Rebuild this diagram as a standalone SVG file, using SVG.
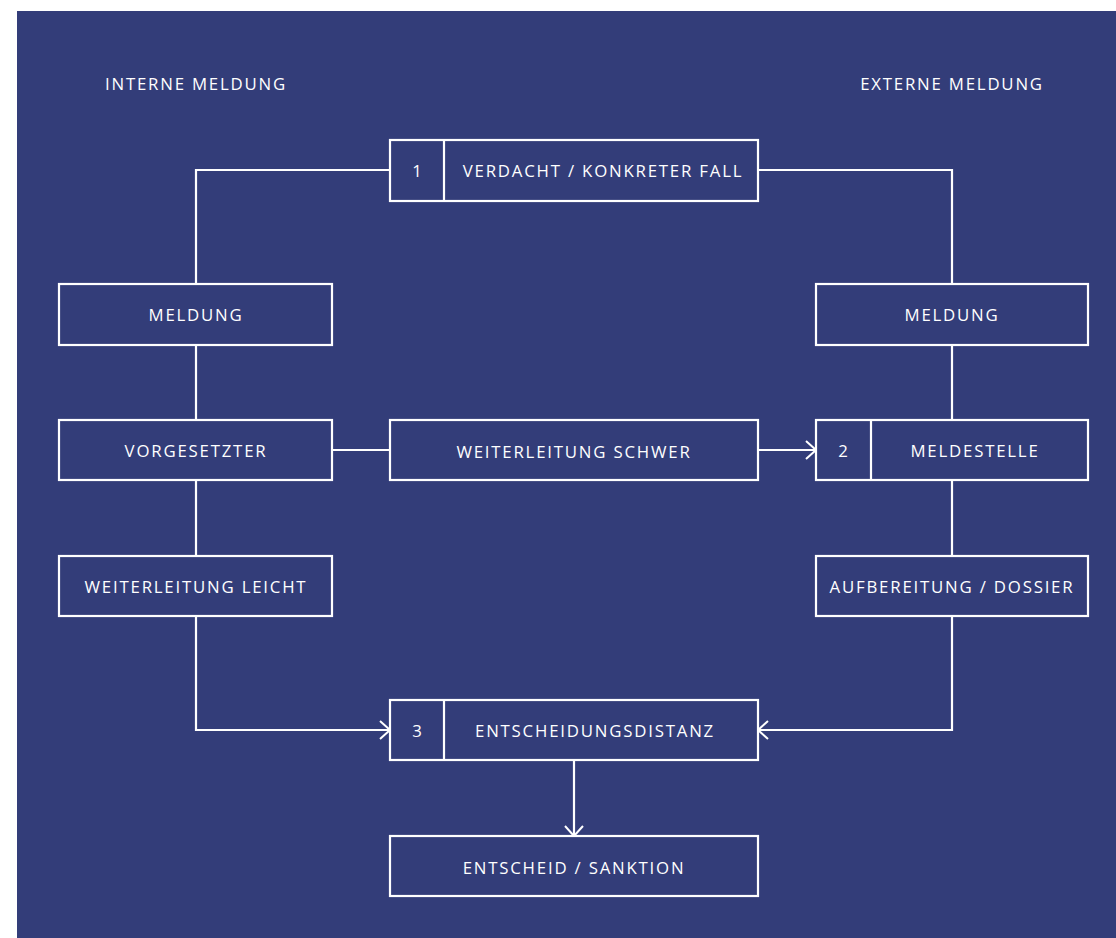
<svg xmlns="http://www.w3.org/2000/svg" width="1116" height="938" viewBox="0 0 1116 938">
<defs>
<marker id="arr" viewBox="0 0 12 20" refX="11" refY="10" markerWidth="12" markerHeight="20" markerUnits="userSpaceOnUse" orient="auto">
<polyline points="1,1 11,10 1,19" fill="none" stroke="#ffffff" stroke-width="2"/>
</marker>
<style>
.bx{fill:none;stroke:#ffffff;stroke-width:2.2}
.ln{fill:none;stroke:#ffffff;stroke-width:2.2}
.t{font-family:"Open Sans","Noto Sans","Liberation Sans",sans-serif;font-size:16.8px;fill:#ffffff;letter-spacing:1.8px;text-anchor:middle;dominant-baseline:central}
</style>
</defs>
<rect x="0" y="0" width="1116" height="938" fill="#ffffff"/>
<rect x="17" y="11" width="1099" height="927" fill="#333d79"/>
<text class="t" x="196" y="83">INTERNE MELDUNG</text>
<text class="t" x="952" y="83">EXTERNE MELDUNG</text>
<g id="connectors">
<polyline class="ln" points="390,170 196,170 196,284"/>
<polyline class="ln" points="758,170 952,170 952,284"/>
<line class="ln" x1="196" y1="345" x2="196" y2="420"/>
<line class="ln" x1="196" y1="480" x2="196" y2="556"/>
<line class="ln" x1="952" y1="345" x2="952" y2="420"/>
<line class="ln" x1="952" y1="480" x2="952" y2="556"/>
<line class="ln" x1="332" y1="450" x2="390" y2="450"/>
<line class="ln" x1="758" y1="450" x2="816" y2="450" marker-end="url(#arr)"/>
<polyline class="ln" points="196,616 196,730 390,730" marker-end="url(#arr)"/>
<polyline class="ln" points="952,616 952,730 758,730" marker-end="url(#arr)"/>
<line class="ln" x1="574" y1="760" x2="574" y2="836" marker-end="url(#arr)"/>
</g>
<g id="n1">
<rect class="bx" x="390" y="140" width="368" height="61"/>
<line class="ln" x1="444" y1="140" x2="444" y2="201"/>
<text class="t" x="418" y="170">1</text>
<text class="t" x="603" y="170">VERDACHT / KONKRETER FALL</text>
</g>
<g id="meldung-intern">
<rect class="bx" x="59" y="284" width="273" height="61"/>
<text class="t" x="196" y="314">MELDUNG</text>
</g>
<g id="meldung-extern">
<rect class="bx" x="816" y="284" width="272" height="61"/>
<text class="t" x="952" y="314">MELDUNG</text>
</g>
<g id="vorgesetzter">
<rect class="bx" x="59" y="420" width="273" height="60"/>
<text class="t" x="196" y="450">VORGESETZTER</text>
</g>
<g id="weiterleitung-schwer">
<rect class="bx" x="390" y="420" width="368" height="60"/>
<text class="t" x="574" y="451">WEITERLEITUNG SCHWER</text>
</g>
<g id="n2">
<rect class="bx" x="816" y="420" width="272" height="60"/>
<line class="ln" x1="871" y1="420" x2="871" y2="480"/>
<text class="t" x="844" y="450">2</text>
<text class="t" x="975" y="450">MELDESTELLE</text>
</g>
<g id="weiterleitung-leicht">
<rect class="bx" x="59" y="556" width="273" height="60"/>
<text class="t" x="196" y="586">WEITERLEITUNG LEICHT</text>
</g>
<g id="aufbereitung">
<rect class="bx" x="816" y="556" width="272" height="60"/>
<text class="t" x="952" y="586">AUFBEREITUNG / DOSSIER</text>
</g>
<g id="n3">
<rect class="bx" x="390" y="700" width="368" height="60"/>
<line class="ln" x1="444" y1="700" x2="444" y2="760"/>
<text class="t" x="418" y="730">3</text>
<text class="t" x="595" y="730">ENTSCHEIDUNGSDISTANZ</text>
</g>
<g id="entscheid">
<rect class="bx" x="390" y="836" width="368" height="60"/>
<text class="t" x="574" y="867">ENTSCHEID / SANKTION</text>
</g>
</svg>
